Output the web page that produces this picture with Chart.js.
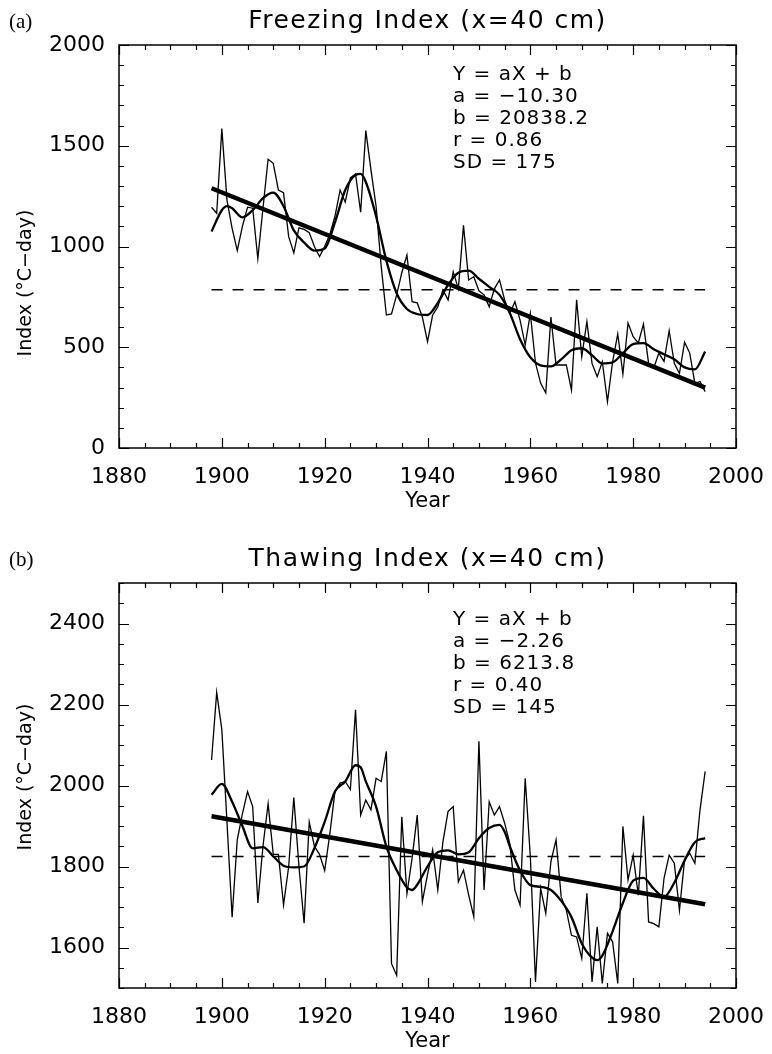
<!DOCTYPE html>
<html>
<head>
<meta charset="utf-8">
<script src="https://cdn.jsdelivr.net/npm/chart.js@4.4.0/dist/chart.umd.min.js"></script>
<style>
  body { margin: 0; background: #fff; }
  #wrap { position: relative; width: 772px; height: 1054px; }
  canvas { position: absolute; left: 0; }
</style>
</head>
<body>
<div id="wrap">
  <canvas id="chartA" width="772" height="527" style="top:0"></canvas>
  <canvas id="chartB" width="772" height="527" style="top:527px"></canvas>
</div>
<script>
// ---- data ----
const firstYear = 1898;

const xTicks = [1880, 1900, 1920, 1940, 1960, 1980, 2000];
const yTicksA = [0, 500, 1000, 1500, 2000];
const yTicksB = [1600, 1800, 2000, 2200, 2400];

// (a) freezing index, yearly 1898-1994
const freezing = [
  1195, 1165, 1585, 1230, 1090, 980, 1100, 1195, 1190, 940,
  1190, 1433, 1413, 1280, 1267, 1049, 968, 1093, 1085, 1069,
  1000, 950, 1000, 1060, 1150, 1280, 1220, 1340, 1360, 1170,
  1575, 1380, 1200, 900, 660, 665, 760, 870, 958, 726,
  720, 650, 528, 660, 700, 784, 735, 875, 790, 1105,
  834, 850, 780, 760, 701, 790, 834, 735, 668, 726,
  635, 511, 668, 422, 322, 273, 650, 412, 412, 412,
  288, 735, 453, 627, 420, 354, 428, 230, 428, 566,
  367, 620, 552, 521, 615, 420, 397, 471, 430, 582,
  420, 370, 525, 471, 321, 330, 280
];
const smoothYearsA = [1898, 1900, 1901, 1902, 1904, 1906, 1908, 1910, 1912, 1914,
  1916, 1918, 1920, 1922, 1924, 1926, 1927, 1928, 1930, 1932,
  1934, 1936, 1938, 1940, 1942, 1944, 1946, 1948, 1950, 1952,
  1954, 1956, 1958, 1960, 1962, 1964, 1966, 1968, 1970, 1972,
  1974, 1976, 1978, 1980, 1982, 1984, 1986, 1988, 1990, 1992, 1994];
const smoothA = [1075, 1180, 1200, 1190, 1145, 1180, 1240, 1267, 1200, 1080,
  1020, 980, 990, 1120, 1280, 1355, 1360, 1320, 1150, 930,
  768, 690, 665, 660, 720, 810, 870, 880, 840, 800,
  760, 670, 540, 450, 410, 405, 440, 485, 495, 460,
  420, 425, 470, 515, 520, 490, 465, 440, 400, 390, 478];
const trendYearsA = [1898, 1994];
const trendA = [1289, 300];
const meanA = 785;
const statsA = ['Y = aX + b', 'a = \u221210.30', 'b = 20838.2', 'r = 0.86', 'SD = 175'];

// (b) thawing index, yearly 1898-1994
const thawing = [
  2063, 2230, 2138, 1910, 1675, 1866, 1930, 1985, 1948, 1710,
  1850, 1955, 1830, 1830, 1705, 1800, 1970, 1800, 1660, 1910,
  1850, 1830, 1790, 1880, 1985, 2006, 2010, 1990, 2187, 1927,
  1964, 1940, 2018, 2010, 2084, 1560, 1531, 1923, 1733, 1820,
  1927, 1713, 1780, 1841, 1742, 1861, 1936, 1948, 1762, 1791,
  1730, 1676, 2109, 1742, 1960, 1927, 1948, 1907, 1857, 1742,
  1705, 2018, 1824, 1515, 1746, 1684, 1812, 1866, 1725, 1692,
  1630, 1626, 1573, 1734, 1515, 1651, 1511, 1635, 1614, 1511,
  1899, 1767, 1828, 1729, 1925, 1663, 1659, 1651, 1771, 1828,
  1808, 1692, 1816, 1833, 1808, 1940, 2035
];
const smoothYearsB = [1898, 1900, 1902, 1904, 1906, 1908, 1910, 1912, 1914, 1916,
  1918, 1920, 1922, 1924, 1926, 1927, 1928, 1930, 1932, 1934,
  1936, 1937, 1938, 1940, 1942, 1944, 1946, 1948, 1950, 1952,
  1954, 1955, 1956, 1958, 1960, 1962, 1964, 1966, 1968, 1970,
  1972, 1973, 1974, 1976, 1978, 1980, 1982, 1984, 1986, 1988,
  1990, 1992, 1994];
const smoothB = [1977, 2004, 1960, 1900, 1845, 1848, 1825, 1802, 1798, 1800,
  1845, 1910, 1985, 2010, 2050, 2045, 2010, 1948, 1849, 1791,
  1748, 1742, 1755, 1800, 1835, 1840, 1830, 1835, 1870, 1895,
  1903, 1886, 1850, 1790, 1754, 1750, 1742, 1715, 1675, 1610,
  1575, 1569, 1580, 1640, 1710, 1765, 1772, 1745, 1725, 1760,
  1815, 1860, 1870];
const trendYearsB = [1898, 1994];
const trendB = [1924, 1707];
const meanB = 1825;
const statsB = ['Y = aX + b', 'a = \u22122.26', 'b = 6213.8', 'r = 0.40', 'SD = 145'];

// ---- helpers ----
const FONT = '"DejaVu Sans", sans-serif';
const toPts = (xs, ys) => ys.map((v, i) => ({ x: xs[i], y: v }));
const yearsOf = vals => vals.map((v, i) => firstYear + i);

// box, inward ticks and the texts around the plot
function framePlugin(cfg) {
  return {
    id: 'frame',
    afterDraw(chart) {
      const { ctx, chartArea: a, scales: { x, y } } = chart;
      ctx.save();
      ctx.strokeStyle = '#000';
      ctx.lineWidth = 1.5;
      ctx.strokeRect(a.left, a.top, a.right - a.left, a.bottom - a.top);
      ctx.beginPath();
      for (let v = x.min; v <= x.max; v += 5) {
        const px = Math.round(x.getPixelForValue(v)) + 0.5;
        const len = v % 20 === 0 ? 10 : 5;
        ctx.moveTo(px, a.bottom); ctx.lineTo(px, a.bottom - len);
        ctx.moveTo(px, a.top); ctx.lineTo(px, a.top + len);
      }
      for (let v = y.min; v <= y.max; v += cfg.minor) {
        const py = Math.round(y.getPixelForValue(v)) + 0.5;
        const len = v % cfg.major === 0 ? 10 : 5;
        ctx.moveTo(a.left, py); ctx.lineTo(a.left + len, py);
        ctx.moveTo(a.right, py); ctx.lineTo(a.right - len, py);
      }
      ctx.lineWidth = 1.2;
      ctx.stroke();

      ctx.fillStyle = '#000';
      // panel letter
      ctx.font = '21px "Liberation Serif", serif';
      ctx.textAlign = 'left';
      ctx.textBaseline = 'middle';
      ctx.fillText(cfg.letter, 9, cfg.titleY + 1);
      // title
      ctx.font = '25px ' + FONT;
      ctx.letterSpacing = '1.5px';
      ctx.textAlign = 'center';
      ctx.fillText(cfg.title, (a.left + a.right) / 2, cfg.titleY);
      // stats block
      ctx.font = '20px ' + FONT;
      ctx.letterSpacing = '1px';
      ctx.textAlign = 'left';
      cfg.stats.forEach((s, i) => ctx.fillText(s, 453, cfg.statsY + i * 22));
      // axis titles
      ctx.font = '21px ' + FONT;
      ctx.letterSpacing = '0px';
      ctx.textAlign = 'center';
      ctx.fillText('Year', (a.left + a.right) / 2, a.bottom + 54);
      ctx.translate(26, cfg.yTitleY);
      ctx.rotate(-Math.PI / 2);
      ctx.font = '19px ' + FONT;
      ctx.fillText('Index (\u00B0C\u2212day)', 0, 0);
      ctx.restore();
    }
  };
}

function makeChart(id, o) {
  const yrs = yearsOf(o.values);
  return new Chart(document.getElementById(id), {
    type: 'line',
    data: {
      datasets: [
        { data: toPts(yrs, o.values), borderColor: '#000', borderWidth: 1.3, pointRadius: 0, tension: 0 },
        { data: toPts(o.smoothYears, o.smooth), borderColor: '#000', borderWidth: 2.3, pointRadius: 0, cubicInterpolationMode: 'monotone' },
        { data: toPts(o.trendYears, o.trend), borderColor: '#000', borderWidth: 4.5, pointRadius: 0 },
        { data: toPts([yrs[0], yrs[yrs.length - 1]], [o.mean, o.mean]), borderColor: '#000', borderWidth: 1.5, borderDash: [11, 10], pointRadius: 0 }
      ]
    },
    options: {
      responsive: false,
      animation: false,
      layout: { padding: { top: o.top, right: 30, left: 0, bottom: 0 } },
      plugins: { legend: { display: false }, tooltip: { enabled: false } },
      scales: {
        x: {
          type: 'linear', min: 1880, max: 2000,
          grid: { display: false }, border: { display: false },
          afterBuildTicks: s => { s.ticks = xTicks.map(v => ({ value: v })); },
          afterFit: s => { s.height = o.xAxisH; },
          ticks: { color: '#000', font: { family: FONT, size: 22 }, padding: 8, maxRotation: 0, callback: v => String(v) }
        },
        y: {
          min: o.yMin, max: o.yMax,
          grid: { display: false }, border: { display: false },
          afterBuildTicks: s => { s.ticks = o.yTicks.map(v => ({ value: v })); },
          afterFit: s => { s.width = 119; },
          ticks: { color: '#000', font: { family: FONT, size: 22 }, padding: 6, callback: v => String(v) }
        }
      }
    },
    plugins: [framePlugin(o)]
  });
}

makeChart('chartA', {
  values: freezing, smoothYears: smoothYearsA, smooth: smoothA,
  trendYears: trendYearsA, trend: trendA, mean: meanA,
  yMin: 0, yMax: 2000, yTicks: yTicksA, minor: 100, major: 500,
  top: 45, xAxisH: 79,
  letter: '(a)', title: 'Freezing Index (x=40 cm)', titleY: 21,
  stats: statsA, statsY: 75, yTitleY: 283
});

makeChart('chartB', {
  values: thawing, smoothYears: smoothYearsB, smooth: smoothB,
  trendYears: trendYearsB, trend: trendB, mean: meanB,
  yMin: 1500, yMax: 2500, yTicks: yTicksB, minor: 50, major: 200,
  top: 56, xAxisH: 66,
  letter: '(b)', title: 'Thawing Index (x=40 cm)', titleY: 32,
  stats: statsB, statsY: 93, yTitleY: 250
});
</script>
</body>
</html>
